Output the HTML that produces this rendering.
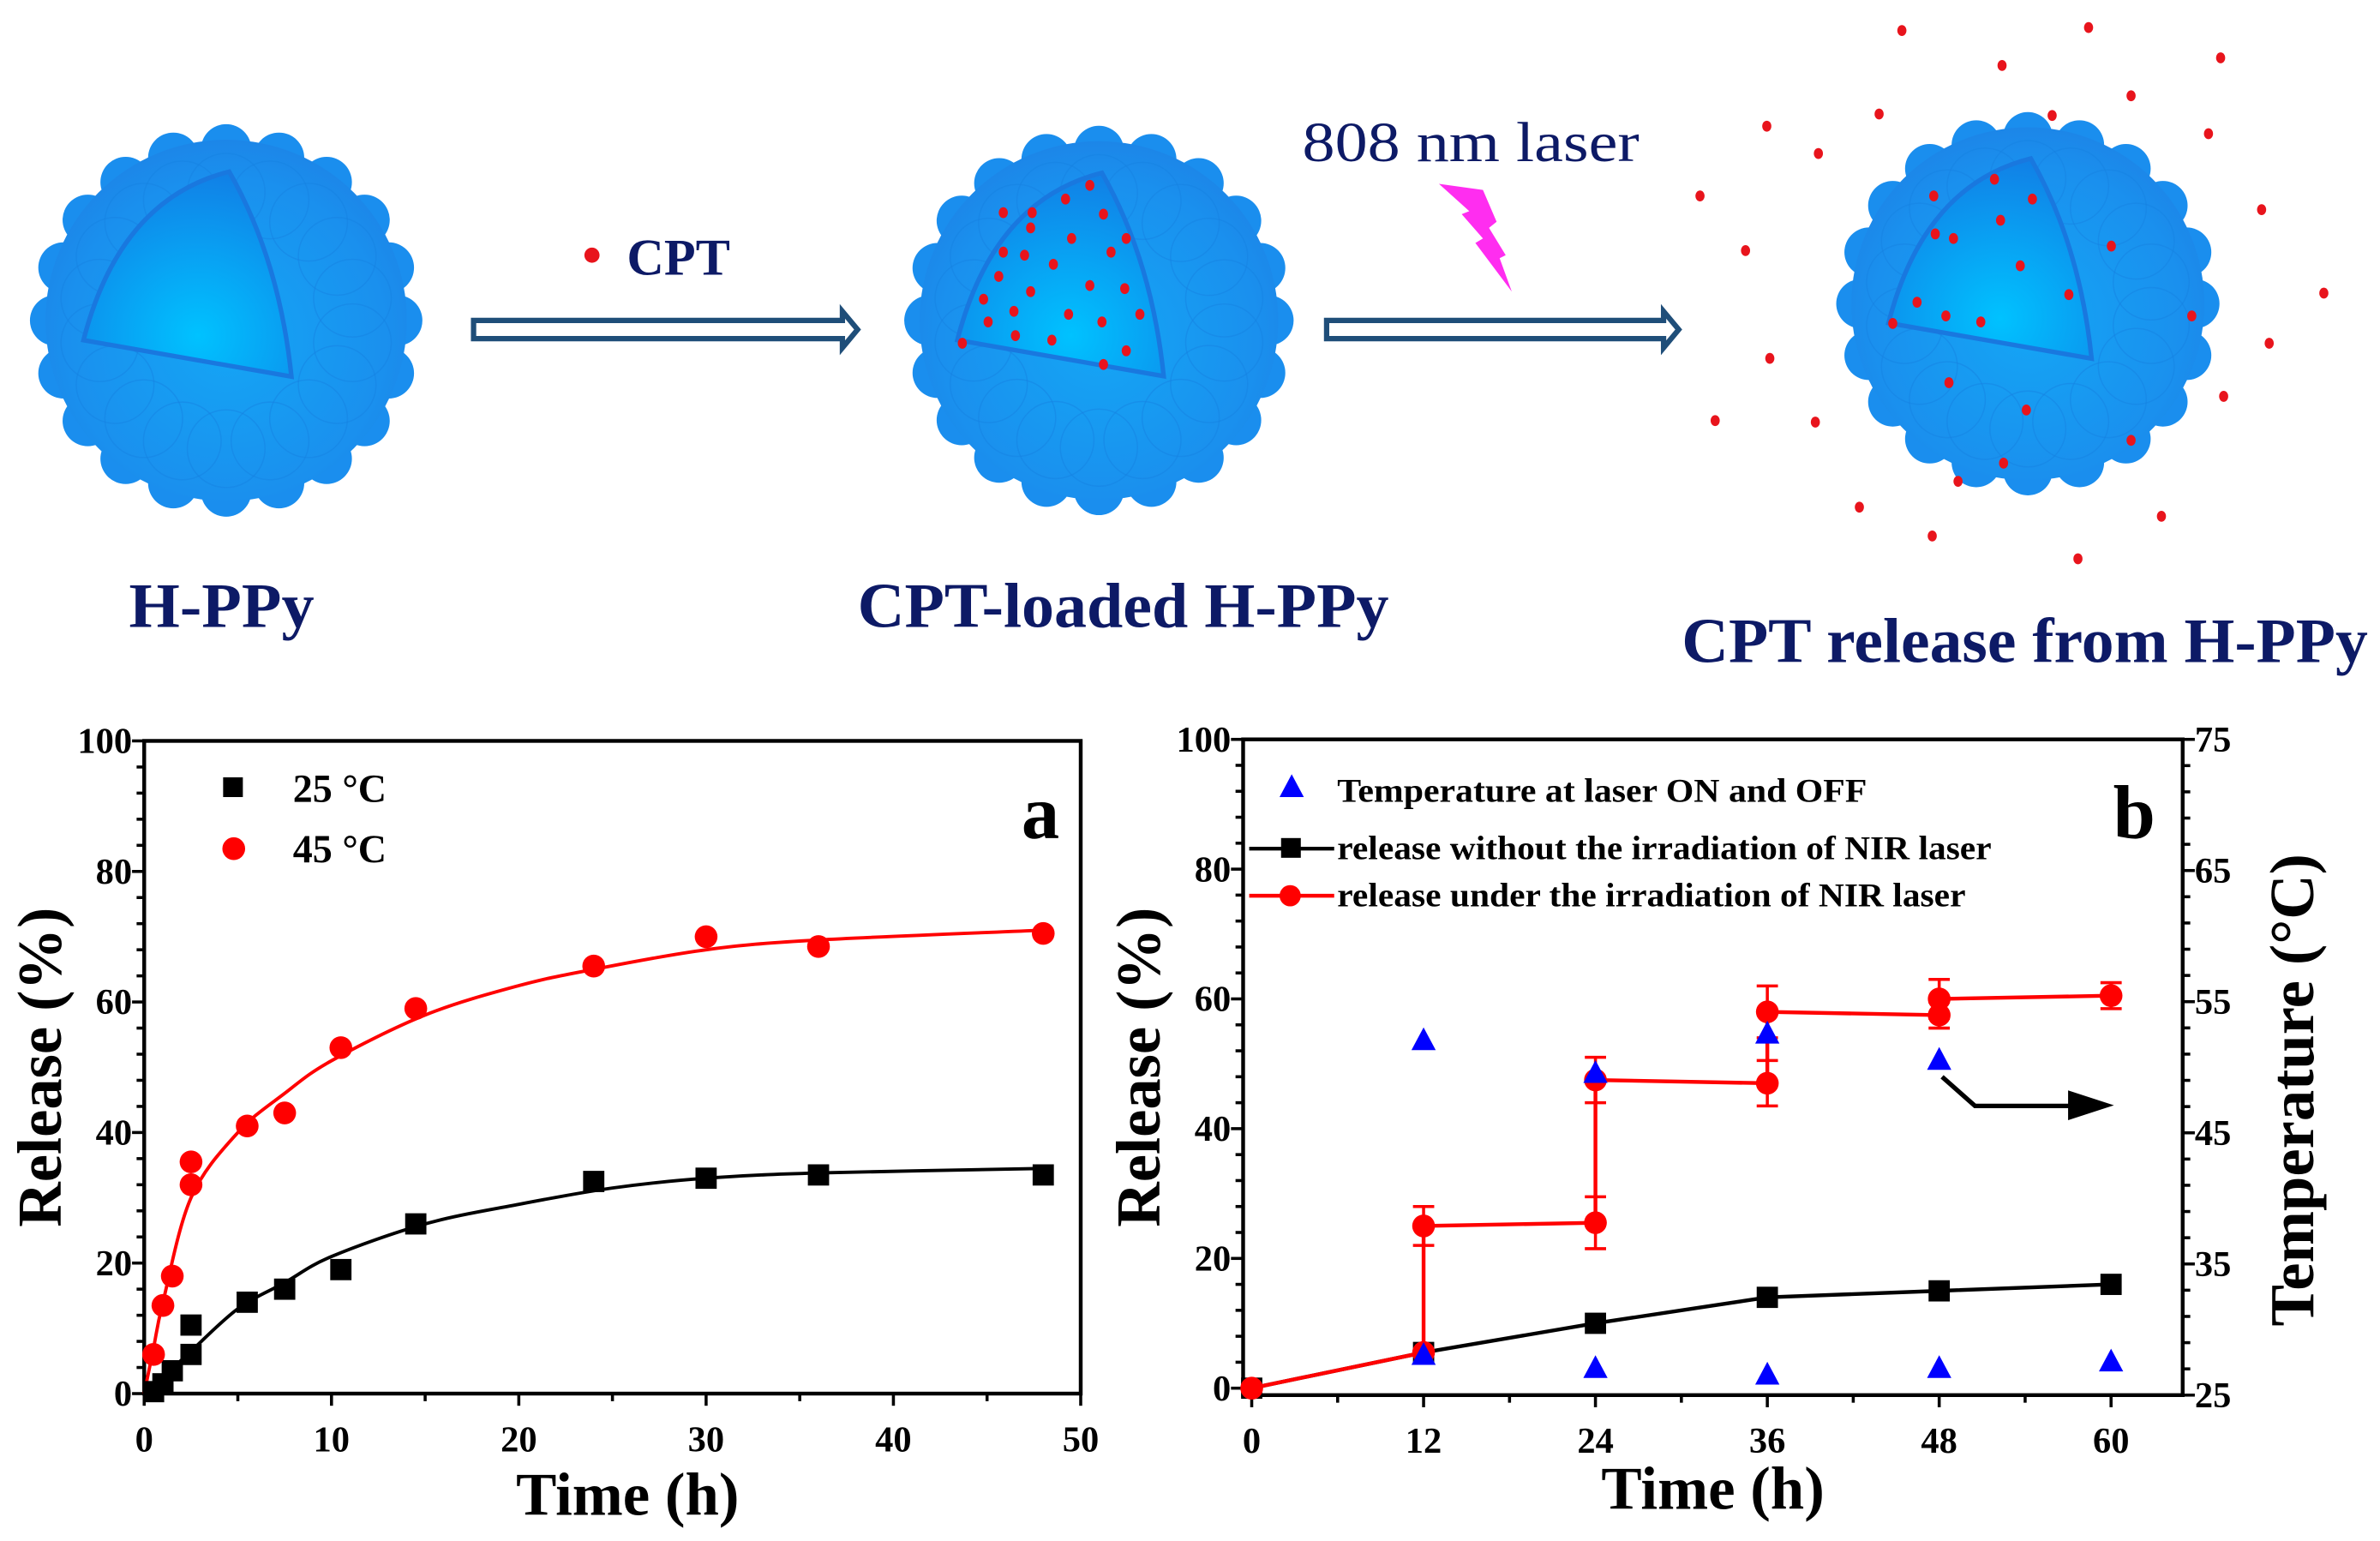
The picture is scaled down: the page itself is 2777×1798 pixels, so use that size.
<!DOCTYPE html>
<html><head><meta charset="utf-8"><style>
html,body{margin:0;padding:0;background:#fff;}
svg{display:block;}
text{font-family:"Liberation Serif",serif;font-weight:bold;}
</style></head><body>
<svg id="fig" width="2777" height="1798" viewBox="0 0 1568 1015" xmlns="http://www.w3.org/2000/svg">
<defs>
<radialGradient id="sg" cx="0.5" cy="0.55" r="0.55">
<stop offset="0" stop-color="#14a6f5"/><stop offset="0.8" stop-color="#1a90ee"/><stop offset="1" stop-color="#1c86e8"/></radialGradient>
<radialGradient id="wg" cx="0.55" cy="0.8" r="0.8">
<stop offset="0" stop-color="#00c2ff"/><stop offset="1" stop-color="#1180e6"/></radialGradient>
</defs>
<g id="illus"></g>
<g id="chartA"></g>
<g id="chartB"></g>
</svg>
<script>
// ---------- Chart A data ----------
const aT25 = [0.5,1,1.5,2.5,2.5,5.5,7.5,10.5,14.5,24,30,36,48];
const aV25 = [0.3,1.5,3.5,10.5,6,14,16,19,26,32.5,33,33.5,33.5];
const aT45 = [0.5,1,1.5,2.5,2.5,5.5,7.5,10.5,14.5,24,30,36,48];
const aV45 = [6,13.5,18,32,35.5,41,43,53,59,65.5,70,68.5,70.5];
const aFitT25 = [0,1,2.5,5,7.5,10,15,20,25,30,36,48];
const aFitV25 = [0,2.5,6.5,13,17,21,26,29,31.5,33,33.8,34.5];
const aFitT45 = [0,0.5,1,2.5,5,7.5,10,15,20,24,30,36,48];
const aFitV45 = [0,7,14,30,40,46,51,58,62.5,65,68,69.5,71];
const aXTicks = [0,10,20,30,40,50];
const aYTicks = [0,20,40,60,80,100];
// ---------- Chart B data ----------
const bBlackT = [0,12,24,36,48,60];
const bBlackV = [0,5.5,10,14,15,16];
const bRedT = [0,12,12,24,24,36,36,48,48,60];
const bRedV = [0,5.5,25,25.5,47.5,47,58,57.5,60,60.5];
const bRedErr = [0,0,3,4,3.5,3.5,4,2,3,2];
const bTempT = [12,12,24,24,36,36,48,48,60];
const bTempV = [52,28,49.5,27,52.5,26.5,50.5,27,27.5];
const bXTicks = [0,12,24,36,48,60];
const bYTicks = [0,20,40,60,80,100];
const bY2Ticks = [25,35,45,55,65,75];
// ---------- Schematic dots ----------
const outDots = [[1253,20],[1376,18],[1463,38],[1319,43],[1404,63],[1238,75],[1164,83],[1455,88],[1198,101],[1120,129],[1490,138],[1150,165],[1531,193],[1495,226],[1166,236],[1465,261],[1130,277],[1196,278],[1290,317],[1225,334],[1424,340],[1273,353],[1369,368],[1352,76]];
const inDots3 = [[1314,118],[1274,129],[1339,131],[1318,145],[1275,154],[1287,157],[1391,162],[1331,175],[1363,194],[1263,199],[1282,208],[1305,212],[1444,208],[1247,213],[1284,252],[1335,270],[1404,290],[1320,305]];
const inDots2 = [[718,122],[702,131],[661,140],[680,140],[727,141],[679,150],[706,157],[742,157],[661,166],[675,168],[732,166],[694,174],[658,182],[718,188],[741,190],[679,192],[648,197],[668,205],[704,207],[751,207],[651,212],[726,212],[669,221],[693,224],[634,226],[742,231],[727,240]];

const NS="http://www.w3.org/2000/svg";
function mk(parent,tag,attrs){const e=document.createElementNS(NS,tag);for(const k in attrs)e.setAttribute(k,attrs[k]);parent.appendChild(e);return e;}
function txt(parent,x,y,s,size,attrs){const e=mk(parent,'text',Object.assign({x:x,y:y,'font-size':size},attrs||{}));e.textContent=s;return e;}

// ---------- schematic ----------
const il=document.getElementById('illus');
function sphere(cx,cy,r,name){
  const g=mk(il,'g',{});
  
  
  for(let i=0;i<20;i++){const a=i/20*Math.PI*2;mk(g,'circle',{cx:cx+Math.cos(a)*r*0.88,cy:cy+Math.sin(a)*r*0.88,r:r*0.13,fill:'#1a8eee'});}
  mk(g,'circle',{cx:cx,cy:cy,r:r*0.93,fill:'url(#sg)'});
  for(let i=0;i<18;i++){const a=(i+0.5)/18*Math.PI*2;mk(g,'circle',{cx:cx+Math.cos(a)*r*0.66,cy:cy+Math.sin(a)*r*0.66,r:r*0.2,fill:'none',stroke:'#1681e2','stroke-width':0.8,opacity:0.5});}
  const s=r/128;
  mk(g,'path',{d:`M${cx+2*s},${cy-98*s} Q${cx-70*s},${cy-80*s} ${cx-94*s},${cy+13*s} L${cx+43*s},${cy+37*s} Q${cx+35*s},${cy-40*s} ${cx+2*s},${cy-98*s} Z`,fill:'url(#wg)',stroke:'#1978df','stroke-width':3});
  return g;
}
sphere(149,211,128,'h-ppy-sphere');
sphere(724,211,127,'cpt-loaded-sphere');
sphere(1336,200,125,'release-sphere');
function dots(arr,name){const g=mk(il,'g',{});arr.forEach(d=>mk(g,'ellipse',{cx:d[0],cy:d[1],rx:3,ry:3.6,fill:'#e8141c'}));}
dots(inDots2,'loaded-cpt-dots');dots(inDots3,'inner-cpt-dots');dots(outDots,'released-cpt-dots');
function hollowArrow(x1,x2,y,name){const g=mk(il,'g',{});
  mk(g,'path',{d:`M${x1},${y-6} L${x2-10},${y-6} L${x2-10},${y-12} L${x2},${y} L${x2-10},${y+12} L${x2-10},${y+6} L${x1},${y+6} Z`,fill:'#fff',stroke:'#1f4e79','stroke-width':3.5});}
hollowArrow(312,565,217,'arrow-load');hollowArrow(874,1106,217,'arrow-release');
mk(il,'circle',{cx:390,cy:168,r:5,fill:'#e8141c'});
txt(il,413,181,'CPT',34,{fill:'#0d1a66'});
const lz=txt(il,858,106,'808 nm laser',37,{fill:'#0d1a66',style:'font-weight:normal',textLength:222,lengthAdjust:'spacingAndGlyphs'});
mk(il,'polygon',{points:'948,121 977,125 986,146 981,150 992,168 988,170 996,192 972,160 977,157 963,141 968,139',fill:'#ff2df0'});
const l1=txt(il,85,413,'H-PPy',42,{fill:'#0d1a66',textLength:122,lengthAdjust:'spacingAndGlyphs'});
const l2=txt(il,565,413,'CPT-loaded H-PPy',42,{fill:'#0d1a66',textLength:350,lengthAdjust:'spacingAndGlyphs'});
const l3=txt(il,1108,436,'CPT release from H-PPy',42,{fill:'#0d1a66',textLength:452,lengthAdjust:'spacingAndGlyphs'});

// ---------- axes helpers ----------
function smoothPath(pts){let d=`M${pts[0][0]},${pts[0][1]}`;for(let i=0;i<pts.length-1;i++){const p0=pts[i-1]||pts[i],p1=pts[i],p2=pts[i+1],p3=pts[i+2]||p2;
 d+=` C${p1[0]+(p2[0]-p0[0])/6},${p1[1]+(p2[1]-p0[1])/6} ${p2[0]-(p3[0]-p1[0])/6},${p2[1]-(p3[1]-p1[1])/6} ${p2[0]},${p2[1]}`;}return d;}

// ---------- Chart A ----------
(function(){
const g=document.getElementById('chartA');
const L=95,R=712,T=488,B=918;
const x=v=>L+(v-0)/50*(R-L), y=v=>B-(v-0)/100*(B-T);
mk(g,'rect',{x:L,y:T,width:R-L,height:B-T,fill:'none',stroke:'#000','stroke-width':2.5});
for(let v=0;v<=50;v+=5){const big=v%10===0;mk(g,'line',{x1:x(v),x2:x(v),y1:B,y2:B+(big?8:5),stroke:'#000','stroke-width':2});}
for(let v=0;v<=100;v+=4){const big=v%20===0;mk(g,'line',{x1:L,x2:L-(big?8:5),y1:y(v),y2:y(v),stroke:'#000','stroke-width':2});}
aXTicks.forEach(v=>{const t=txt(g,x(v),B+38,String(v),24,{'text-anchor':'middle'});});
aYTicks.forEach(v=>{const t=txt(g,L-8,y(v)+8,String(v),24,{'text-anchor':'end'});});
txt(g,(L+R)/2+10,B+80,'Time (h)',40,{'text-anchor':'middle'});
txt(g,0,0,'Release (%)',41,{'text-anchor':'middle',transform:`translate(40,${(T+B)/2}) rotate(-90)`});
txt(g,698,552,'a',50,{'text-anchor':'end'});
const f1=mk(g,'path',{d:smoothPath(aFitT25.map((t,i)=>[x(t),y(aFitV25[i])])),fill:'none',stroke:'#000','stroke-width':2.2});

const f2=mk(g,'path',{d:smoothPath(aFitT45.map((t,i)=>[x(t),y(aFitV45[i])])),fill:'none',stroke:'#f00','stroke-width':2.2});

aT25.forEach((t,i)=>{const r=mk(g,'rect',{x:x(t)-7,y:y(aV25[i])-7,width:14,height:14,fill:'#000'});});
aT45.forEach((t,i)=>{const c=mk(g,'circle',{cx:x(t),cy:y(aV45[i]),r:7.5,fill:'#f00'});});
mk(g,'rect',{x:147,y:512,width:13,height:13,fill:'#000'});
txt(g,193,528,'25 °C',26,{});
mk(g,'circle',{cx:154,cy:559,r:7.5,fill:'#f00'});
txt(g,193,568,'45 °C',26,{});
})();

// ---------- Chart B ----------
(function(){
const g=document.getElementById('chartB');
const L=819,R=1438,T=487,B=919;
const x0=-0.6,x1=65,y0=-1.07,y1=100;
const x=v=>L+(v-x0)/(x1-x0)*(R-L), y=v=>B-(v-y0)/(y1-y0)*(B-T);
const y2=v=>B-(v-25)/50*(B-T);
mk(g,'rect',{x:L,y:T,width:R-L,height:B-T,fill:'none',stroke:'#000','stroke-width':2.5});
for(let v=0;v<=60;v+=6){const big=v%12===0;mk(g,'line',{x1:x(v),x2:x(v),y1:B,y2:B+(big?8:5),stroke:'#000','stroke-width':2});}
for(let v=0;v<=100;v+=4){const big=v%20===0;mk(g,'line',{x1:L,x2:L-(big?8:5),y1:y(v),y2:y(v),stroke:'#000','stroke-width':2});}
for(let v=25;v<=75;v+=2){const big=(v-25)%10===0;mk(g,'line',{x1:R,x2:R+(big?8:5),y1:y2(v),y2:y2(v),stroke:'#000','stroke-width':2});}
bXTicks.forEach(v=>{const t=txt(g,x(v),B+38,String(v),24,{'text-anchor':'middle'});});
bYTicks.forEach(v=>{const t=txt(g,L-8,y(v)+8,String(v),24,{'text-anchor':'end'});});
bY2Ticks.forEach(v=>{const t=txt(g,R+8,y2(v)+8,String(v),24,{});});
txt(g,(L+R)/2,B+75,'Time (h)',40,{'text-anchor':'middle'});
txt(g,0,0,'Release (%)',41,{'text-anchor':'middle',transform:`translate(764,${(T+B)/2}) rotate(-90)`});
txt(g,0,0,'Temperature (°C)',41,{'text-anchor':'middle',transform:`translate(1524,718) rotate(-90)`});
txt(g,1420,552,'b',50,{'text-anchor':'end'});
const bl=mk(g,'polyline',{points:bBlackT.map((t,i)=>x(t)+','+y(bBlackV[i])).join(' '),fill:'none',stroke:'#000','stroke-width':2.5});

const rl=mk(g,'polyline',{points:bRedT.map((t,i)=>x(t)+','+y(bRedV[i])).join(' '),fill:'none',stroke:'#f00','stroke-width':2.5});

bBlackT.forEach((t,i)=>{const r=mk(g,'rect',{x:x(t)-7,y:y(bBlackV[i])-7,width:14,height:14,fill:'#000'});});
bRedT.forEach((t,i)=>{const e=bRedErr[i];if(e>0){const eg=mk(g,'g',{stroke:'#f00','stroke-width':2});
 mk(eg,'line',{x1:x(t),x2:x(t),y1:y(bRedV[i]-e),y2:y(bRedV[i]+e)});mk(eg,'line',{x1:x(t)-7,x2:x(t)+7,y1:y(bRedV[i]-e),y2:y(bRedV[i]-e)});mk(eg,'line',{x1:x(t)-7,x2:x(t)+7,y1:y(bRedV[i]+e),y2:y(bRedV[i]+e)});}
 const c=mk(g,'circle',{cx:x(t),cy:y(bRedV[i]),r:7.5,fill:'#f00'});});
bTempT.forEach((t,i)=>{const X=x(t),Y=y2(bTempV[i]);const p=mk(g,'polygon',{points:`${X},${Y-9} ${X-8},${Y+6} ${X+8},${Y+6}`,fill:'#00f'});});
// arrow pointing to right axis
const ar=mk(g,'path',{d:`M${x(48.2)},${y(48)} L${x(50.5)},${y(43.5)} L${x(57.5)},${y(43.5)}`,fill:'none',stroke:'#000','stroke-width':3});

mk(g,'polygon',{points:`${x(57)},${y(41.3)} ${x(60.2)},${y(43.6)} ${x(57)},${y(45.9)}`,fill:'#000'});
// legend
const lp=mk(g,'polygon',{points:'851,510 843,525 859,525',fill:'#00f'});
txt(g,881,528,'Temperature at laser ON and OFF',22,{textLength:349,lengthAdjust:'spacingAndGlyphs'});
mk(g,'line',{x1:823,x2:879,y1:559,y2:559,stroke:'#000','stroke-width':2.5});
mk(g,'rect',{x:844,y:552,width:13,height:13,fill:'#000'});
txt(g,881,566,'release without the irradiation of NIR laser',22,{textLength:431,lengthAdjust:'spacingAndGlyphs'});
mk(g,'line',{x1:823,x2:879,y1:590,y2:590,stroke:'#f00','stroke-width':2.5});
mk(g,'circle',{cx:850,cy:590,r:7,fill:'#f00'});
txt(g,881,597,'release under the irradiation of NIR laser',22,{textLength:414,lengthAdjust:'spacingAndGlyphs'});
})();
</script>
</body></html>
